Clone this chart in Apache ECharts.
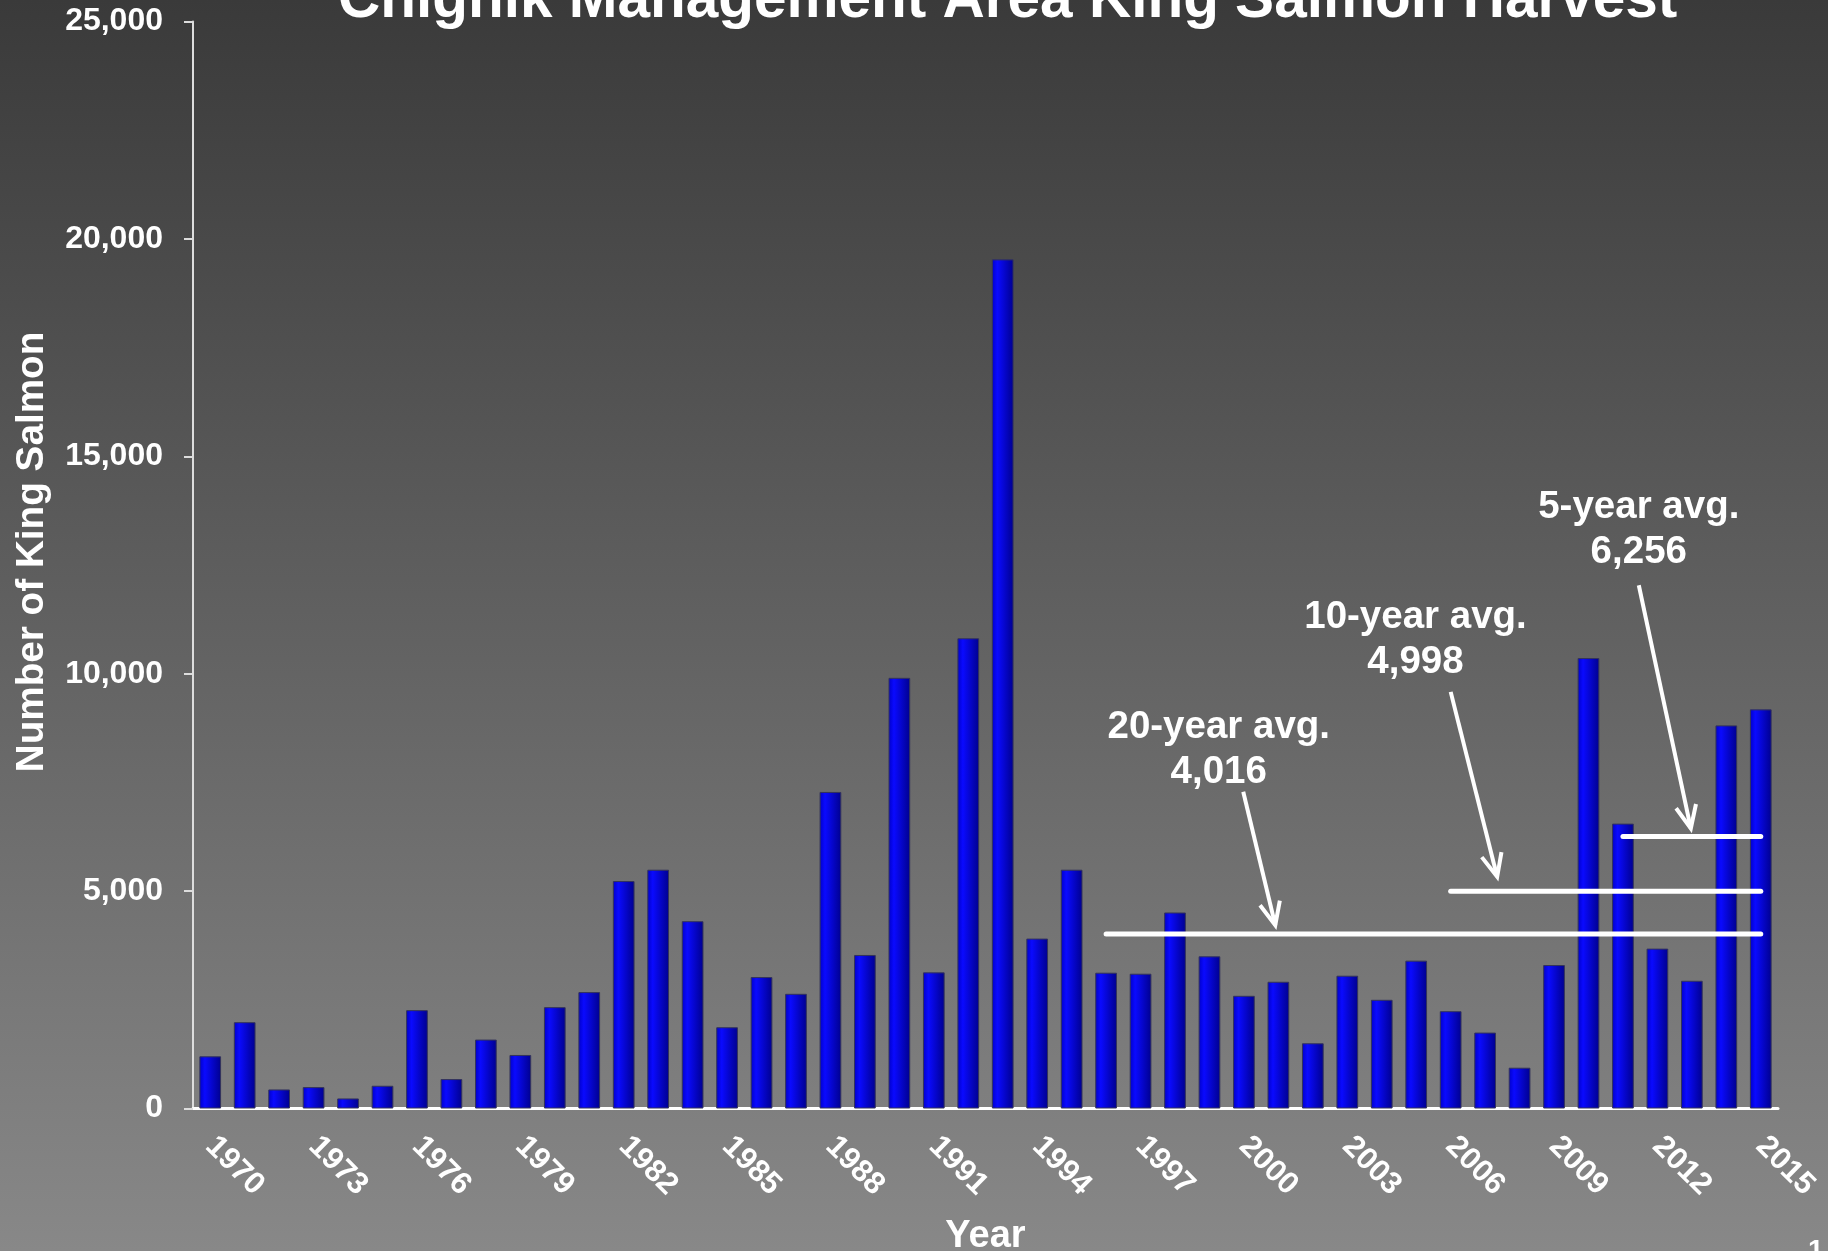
<!DOCTYPE html>
<html lang="en">
<head>
    <meta charset="UTF-8">
    <title>Chignik Management Area King Salmon Harvest</title>
    <script src="https://cdn.jsdelivr.net/npm/echarts@6/dist/echarts.min.js"></script>
    <style>
        html, body {
            margin: 0;
            padding: 0;
            overflow: hidden;
        }

        #main {
            width: 1828px;
            height: 1251px;
        }
    </style>
</head>
<body>
<div id="main"></div>

<script type="text/javascript">
    // harvest by year
    var years = ['1970', '1971', '1972', '1973', '1974', '1975', '1976', '1977', '1978', '1979',
        '1980', '1981', '1982', '1983', '1984', '1985', '1986', '1987', '1988', '1989',
        '1990', '1991', '1992', '1993', '1994', '1995', '1996', '1997', '1998', '1999',
        '2000', '2001', '2002', '2003', '2004', '2005', '2006', '2007', '2008', '2009',
        '2010', '2011', '2012', '2013', '2014', '2015'];
    var harvest = [1200, 1985, 438, 492, 231, 523, 2262, 677, 1585, 1231,
        2331, 2677, 5231, 5492, 4308, 1869, 3023, 2638, 7280, 3531,
        9905, 3131, 10815, 19530, 3908, 5492, 3123, 3100, 4508, 3500,
        2592, 2915, 1500, 3054, 2500, 3400, 2238, 1746, 938, 3300,
        10360, 6552, 3677, 2938, 8811, 9180];

    // y axis ticks
    var yTicks = [0, 5000, 10000, 15000, 20000, 25000];

    // averages
    var avgNames = ['20-year avg.', '10-year avg.', '5-year avg.'];
    var avgValues = [4016, 4998, 6256];
    var avgFrom = [1996, 2006, 2011];
    var avgTo = [2015, 2015, 2015];

    var FONT = '"Liberation Sans", Arial, sans-serif';

    // where the callout text and arrows sit, in year / fish units
    var callouts = [
        {text: [1999.27, 8255], arrow: [[1999.98, 7283], [2000.91, 4218]]},
        {text: [2004.98, 10789], arrow: [[2006.0, 9582], [2007.35, 5329]]},
        {text: [2011.46, 13299], arrow: [[2011.46, 12034], [2012.97, 6441]]}
    ];

    function fmt(v) {
        return v.toLocaleString('en-US');
    }

    var avgData = avgValues.map(function (v, i) {
        return [avgFrom[i], avgTo[i], v];
    });

    function renderAvg(params, api) {
        var i = params.dataIndex;
        var p1 = api.coord([api.value(0), api.value(2)]);
        var p2 = api.coord([api.value(1), api.value(2)]);
        var c = callouts[i];
        var t = api.coord(c.text);
        var a1 = api.coord(c.arrow[0]);
        var a2 = api.coord(c.arrow[1]);

        // open arrow head
        var dx = a2[0] - a1[0], dy = a2[1] - a1[1];
        var len = Math.sqrt(dx * dx + dy * dy);
        dx /= len;
        dy /= len;
        var ang = 24 * Math.PI / 180, hl = 25;
        function wing(s) {
            var cs = Math.cos(s * ang), sn = Math.sin(s * ang);
            var rx = -(dx * cs - dy * sn), ry = -(dx * sn + dy * cs);
            return [a2[0] + rx * hl, a2[1] + ry * hl];
        }

        var white = {stroke: '#ffffff', lineWidth: 5, lineCap: 'round'};
        return {
            type: 'group',
            children: [
                {type: 'line', shape: {x1: p1[0], y1: p1[1], x2: p2[0], y2: p2[1]}, style: white},
                {type: 'line', shape: {x1: a1[0], y1: a1[1], x2: a2[0], y2: a2[1]},
                    style: {stroke: '#ffffff', lineWidth: 4}},
                {type: 'polyline', shape: {points: [wing(1), a2, wing(-1)]},
                    style: {stroke: '#ffffff', lineWidth: 4, fill: null}},
                {type: 'text', x: t[0], y: t[1],
                    style: {
                        text: avgNames[i] + '\n' + fmt(api.value(2)),
                        fill: '#ffffff', font: 'bold 38.5px ' + FONT,
                        align: 'center', verticalAlign: 'middle', lineHeight: 45
                    }}
            ]
        };
    }

    var myChart = echarts.init(document.getElementById('main'));

    var option = {
        backgroundColor: new echarts.graphic.LinearGradient(0, 0, 0, 1, [
            {offset: 0, color: '#3a3a3a'},
            {offset: 1, color: '#888888'}
        ]),
        animation: false,
        title: {
            text: 'Chignik Management Area King Salmon Harvest',
            left: 338,
            top: -29,
            padding: 0,
            textStyle: {color: '#ffffff', fontSize: 58.5, fontWeight: 'bold', fontFamily: FONT}
        },
        grid: {left: 193, right: 50, top: 21.5, bottom: 142.5, outerBoundsMode: 'none', containLabel: false},
        xAxis: [{
            type: 'category',
            data: years,
            name: 'Year',
            nameLocation: 'middle',
            nameGap: 109,
            nameTextStyle: {color: '#ffffff', fontSize: 38, fontWeight: 'bold', fontFamily: FONT},
            axisLine: {lineStyle: {color: '#ffffff', width: 3}},
            axisTick: {interval: 0, length: 9, lineStyle: {color: '#ffffff', width: 2}},
            axisLabel: {
                interval: 2, rotate: -45, margin: 33,
                color: '#ffffff', fontSize: 31, fontWeight: 'bold', fontFamily: FONT
            }
        }, {
            // hidden year scale for the average lines and callouts
            type: 'value',
            min: 1969.5,
            max: 2015.5,
            show: false
        }],
        yAxis: {
            type: 'value',
            min: yTicks[0],
            max: yTicks[yTicks.length - 1],
            interval: yTicks[1] - yTicks[0],
            name: 'Number of King Salmon',
            nameLocation: 'middle',
            nameGap: 141,
            nameTextStyle: {
                color: '#ffffff', fontSize: 38.7, fontWeight: 'bold', fontFamily: FONT,
                padding: [0, 0, 0, 26]
            },
            axisLine: {show: true, lineStyle: {color: '#dddddd', width: 2}},
            axisTick: {show: true, length: 9, lineStyle: {color: '#dddddd', width: 2}},
            splitLine: {show: false},
            axisLabel: {
                margin: 30, formatter: fmt,
                color: '#ffffff', fontSize: 32, fontWeight: 'bold', fontFamily: FONT
            }
        },
        series: [{
            name: 'Harvest',
            type: 'bar',
            data: harvest,
            barWidth: '63%',
            itemStyle: {
                color: new echarts.graphic.LinearGradient(0, 0, 1, 0, [
                    {offset: 0, color: '#0000c8'},
                    {offset: 0.25, color: '#0a0aff'},
                    {offset: 1, color: '#00008e'}
                ]),
                borderColor: '#34345a',
                borderWidth: 1
            }
        }, {
            name: 'Averages',
            type: 'custom',
            xAxisIndex: 1,
            yAxisIndex: 0,
            data: avgData,
            encode: {x: [0, 1], y: 2},
            renderItem: renderAvg,
            z: 5
        }],
        graphic: [{
            type: 'text',
            left: 1808,
            top: 1237,
            style: {text: '1', fill: '#ffffff', font: 'bold 28px ' + FONT}
        }]
    };

    myChart.setOption(option);
</script>

</body>
</html>
